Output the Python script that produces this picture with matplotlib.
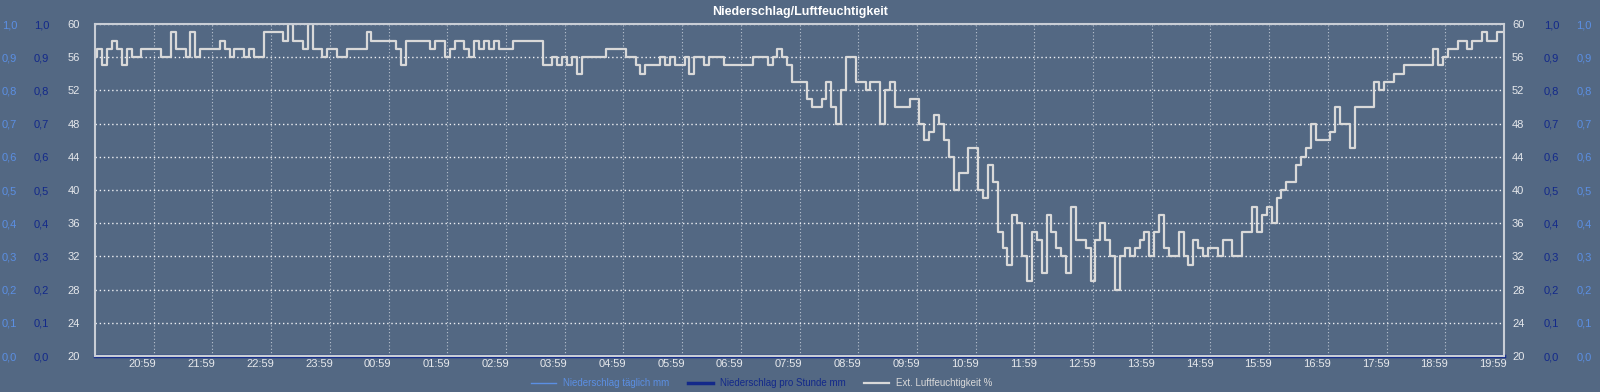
import matplotlib
matplotlib.use("Agg")
import matplotlib.pyplot as plt
import matplotlib.transforms as mtransforms
from matplotlib.ticker import FuncFormatter
import numpy as np

plt.rcParams['font.family'] = ['Liberation Sans', 'DejaVu Sans']

# humidity %, one value every 5 minutes starting 19:59 (one row per hour)
humidity = [
    56, 57, 55, 57, 58, 57, 55, 57, 56, 56, 57, 57,  # 19:59
    57, 57, 56, 56, 59, 57, 57, 56, 59, 56, 57, 57,  # 20:59
    57, 57, 58, 57, 56, 57, 57, 56, 57, 56, 56, 59,  # 21:59
    59, 59, 59, 58, 60, 58, 58, 57, 60, 57, 57, 56,  # 22:59
    57, 57, 56, 56, 57, 57, 57, 57, 59, 58, 58, 58,  # 23:59
    58, 58, 57, 55, 58, 58, 58, 58, 58, 57, 58, 58,  # 00:59
    56, 57, 58, 58, 57, 56, 58, 57, 58, 57, 58, 57,  # 01:59
    57, 57, 58, 58, 58, 58, 58, 58, 55, 55, 56, 55,  # 02:59
    56, 55, 56, 54, 56, 56, 56, 56, 56, 57, 57, 57,  # 03:59
    57, 56, 56, 55, 54, 55, 55, 55, 56, 55, 56, 55,  # 04:59
    55, 56, 54, 56, 56, 55, 56, 56, 56, 55, 55, 55,  # 05:59
    55, 55, 55, 56, 56, 56, 55, 56, 57, 56, 55, 53,  # 06:59
    53, 53, 51, 50, 50, 51, 53, 50, 48, 52, 56, 56,  # 07:59
    53, 53, 52, 53, 53, 48, 52, 53, 50, 50, 50, 51,  # 08:59
    51, 48, 46, 47, 49, 48, 46, 44, 40, 42, 42, 45,  # 09:59
    45, 40, 39, 43, 41, 35, 33, 31, 37, 36, 32, 29,  # 10:59
    35, 34, 30, 37, 35, 33, 32, 30, 38, 34, 34, 33,  # 11:59
    29, 34, 36, 34, 32, 28, 32, 33, 32, 33, 34, 35,  # 12:59
    32, 35, 37, 33, 32, 32, 35, 32, 31, 34, 33, 32,  # 13:59
    33, 33, 32, 34, 34, 32, 32, 35, 35, 38, 35, 37,  # 14:59
    38, 36, 39, 40, 41, 41, 43, 44, 45, 48, 46, 46,  # 15:59
    46, 47, 50, 48, 48, 45, 50, 50, 50, 50, 53, 52,  # 16:59
    53, 53, 54, 54, 55, 55, 55, 55, 55, 55, 57, 55,  # 17:59
    56, 57, 57, 58, 58, 57, 58, 58, 59, 58, 58, 59,  # 18:59
    59,
]

# precipitation (mm), hourly samples, all zero
rain_hours = [0, 1, 2, 3, 4, 5, 6, 7, 8, 9, 10, 11, 12, 13, 14, 15, 16, 17, 18, 19, 20, 21, 22, 23, 24]
rain_daily = [0.0, 0.0, 0.0, 0.0, 0.0, 0.0, 0.0, 0.0, 0.0, 0.0, 0.0, 0.0, 0.0,
              0.0, 0.0, 0.0, 0.0, 0.0, 0.0, 0.0, 0.0, 0.0, 0.0, 0.0, 0.0]
rain_hourly = [0.0, 0.0, 0.0, 0.0, 0.0, 0.0, 0.0, 0.0, 0.0, 0.0, 0.0, 0.0, 0.0,
               0.0, 0.0, 0.0, 0.0, 0.0, 0.0, 0.0, 0.0, 0.0, 0.0, 0.0, 0.0]

hour_labels = ["20:59", "21:59", "22:59", "23:59", "00:59", "01:59", "02:59", "03:59",
               "04:59", "05:59", "06:59", "07:59", "08:59", "09:59", "10:59", "11:59",
               "12:59", "13:59", "14:59", "15:59", "16:59", "17:59", "18:59", "19:59"]

bg = '#536883'
c_hum = '#d9d9d9'
c_day = '#5b8fe3'
c_hour = '#13298a'
c_text = '#e6e8ec'

t = np.arange(len(humidity)) * 5 / 60.0

fig = plt.figure(figsize=(16, 3.92), dpi=100, facecolor=bg)
ax = fig.add_axes([95 / 1600, 36 / 392, 1409 / 1600, 332 / 392])
ax.patch.set_visible(False)

comma = FuncFormatter(lambda v, p: f"{v:.1f}".replace('.', ','))


def side_axis(lim, ticks, fmt, color, side, pad):
    a = ax.twinx()
    a.set_ylim(*lim)
    a.set_yticks(ticks)
    if fmt is not None:
        a.yaxis.set_major_formatter(fmt)
    left = side == 'left'
    a.tick_params(axis='y', left=left, labelleft=left, right=not left, labelright=not left,
                  length=0, pad=pad, labelcolor=color, labelsize=8)
    for s in a.spines.values():
        s.set_visible(False)
    a.patch.set_visible(False)
    return a


hum_ticks = np.arange(20, 61, 4)
p_ticks = np.round(np.arange(0, 1.01, 0.1), 1)

day_l = side_axis((0, 1), p_ticks, comma, c_day, 'left', 56)
hour_l = side_axis((0, 1), p_ticks, comma, c_hour, 'left', 33)
side_axis((20, 60), hum_ticks, None, c_text, 'left', 10.8)
side_axis((20, 60), hum_ticks, None, c_text, 'right', 5.8)
side_axis((0, 1), p_ticks, comma, c_hour, 'right', 28.8)
side_axis((0, 1), p_ticks, comma, c_day, 'right', 52)

l_hour, = hour_l.plot(rain_hours, rain_hourly, color=c_hour, lw=2.5, clip_on=False,
                      label='Niederschlag pro Stunde mm')
l_day, = day_l.plot(rain_hours, rain_daily, color=c_day, lw=1.0, clip_on=False,
                    label='Niederschlag täglich mm')

ax.set_zorder(5)
l_hum, = ax.plot(t, humidity, color=c_hum, lw=1.6, drawstyle='steps-mid',
                 label='Ext. Luftfeuchtigkeit %')
ax.set_xlim(0, 24)
ax.set_ylim(20, 60)
ax.set_yticks(hum_ticks)
ax.tick_params(axis='y', left=False, labelleft=False)
ax.set_xticks(np.arange(1, 25))
ax.set_xticklabels(hour_labels)
ax.tick_params(axis='x', length=0, pad=2, labelsize=8, labelcolor=c_text)
shift = mtransforms.ScaledTranslation(-11 / 100, 0, fig.dpi_scale_trans)
for lab in ax.get_xticklabels():
    lab.set_transform(lab.get_transform() + shift)

ax.grid(axis='y', color='#eef0f4', linestyle=(0, (1, 2)), lw=1.0)
ax.grid(axis='x', color='#b9c2cf', linestyle=(0, (1, 2)), lw=0.8)
for s in ['left', 'top', 'right', 'bottom']:
    ax.spines[s].set_color('#c9ced6')
    ax.spines[s].set_linewidth(1.5)

fig.text(0.5, 1 - 12 / 392, 'Niederschlag/Luftfeuchtigkeit', ha='center', va='center',
         color='white', fontsize=9, fontweight='bold')

fig.legend([l_day, l_hour, l_hum],
           ['Niederschlag täglich mm', 'Niederschlag pro Stunde mm', 'Ext. Luftfeuchtigkeit %'],
           loc='center', bbox_to_anchor=(0.476, 9 / 392), ncol=3, frameon=False,
           fontsize=7, labelcolor='linecolor', handlelength=2.6, handletextpad=0.7,
           columnspacing=1.9)

fig.savefig('out.png', dpi=100, facecolor=bg)
